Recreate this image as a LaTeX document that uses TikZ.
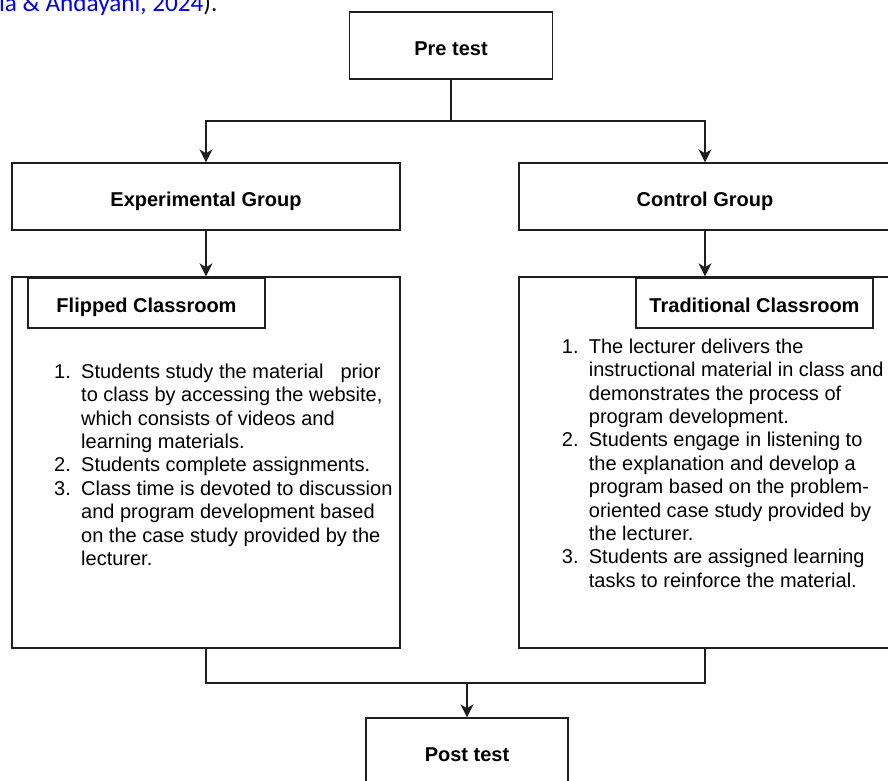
\documentclass[tikz,border=0pt]{standalone}
\usepackage{fontspec}
\setmainfont{Liberation Sans}
\newfontfamily\citefont{Carlito}
\usetikzlibrary{arrows.meta}
\definecolor{linec}{RGB}{30,30,30}
\definecolor{citeblue}{RGB}{0,0,235}
\begin{document}
\begin{tikzpicture}[x=1pt,y=-1pt,
  box/.style={draw=linec, line width=1.4pt, inner sep=0pt, text height=19pt, text depth=0pt,
    font=\bfseries\fontsize{20}{24}\selectfont},
  listtext/.style={anchor=base west, inner sep=0pt, font=\fontsize{20}{23.4}\selectfont},
  conn/.style={draw=linec, line width=1.4pt},
  arr/.style={conn, -{Stealth[length=13pt,width=13pt,inset=4pt]}}]
\useasboundingbox (0,0) rectangle (888,780);

\node[anchor=base west, inner sep=0pt, font=\citefont\fontsize{25.2}{30}\selectfont] (cite) at (-1,11.8)
  {\textcolor{citeblue}{la \& Andayani, 2024}).};

\node[box, minimum width=203pt, minimum height=67pt] (pre) at (451,45.5) {Pre test};
\node[box, minimum width=388pt, minimum height=67pt] (exp) at (206,196.5) {Experimental Group};
\node[box, minimum width=372pt, minimum height=67pt] (ctrl) at (705,196.5) {Control Group};

\node[box, minimum width=388pt, minimum height=371pt] (flip) at (206,462.5) {};
\node[box, minimum width=372pt, minimum height=371pt] (trad) at (705,462.5) {};
\node[box, minimum width=237pt, minimum height=50pt] (fliptitle) at (146.5,303) {Flipped Classroom};
\node[box, minimum width=237pt, minimum height=50pt] (tradtitle) at (754.5,303) {Traditional Classroom};

\node[box, minimum width=202pt, minimum height=67pt] (post) at (467,751.5) {Post test};

\node[listtext] (flist) at (54,378.3) {\begin{tabular}[t]{@{}p{27pt}@{}l@{}}
1. & Students study the material\hspace{17pt}prior\\
   & to class by accessing the website,\\
   & which consists of videos and\\
   & learning materials.\\
2. & Students complete assignments.\\
3. & Class time is devoted to discussion\\
   & and program development based\\
   & on the case study provided by the\\
   & lecturer.
\end{tabular}};

\node[listtext] (tlist) at (561.7,353.3) {\begin{tabular}[t]{@{}p{27pt}@{}l@{}}
1. & The lecturer delivers the\\
   & instructional material in class and\\
   & demonstrates the process of\\
   & program development.\\
2. & Students engage in listening to\\
   & the explanation and develop a\\
   & program based on the problem-\\
   & oriented case study provided by\\
   & the lecturer.\\
3. & Students are assigned learning\\
   & tasks to reinforce the material.
\end{tabular}};

\coordinate (split) at (451,121);
\coordinate (join) at (467,683);
\draw[conn] (pre.south) -- (split);
\draw[arr] (split) -| (exp.north);
\draw[arr] (split) -| (ctrl.north);
\draw[arr] (exp.south) -- (flip.north);
\draw[arr] (ctrl.south) -- (trad.north);
\draw[conn] (flip.south) |- (join);
\draw[conn] (trad.south) |- (join);
\draw[arr] (join) -- (post.north);
\end{tikzpicture}
\end{document}
